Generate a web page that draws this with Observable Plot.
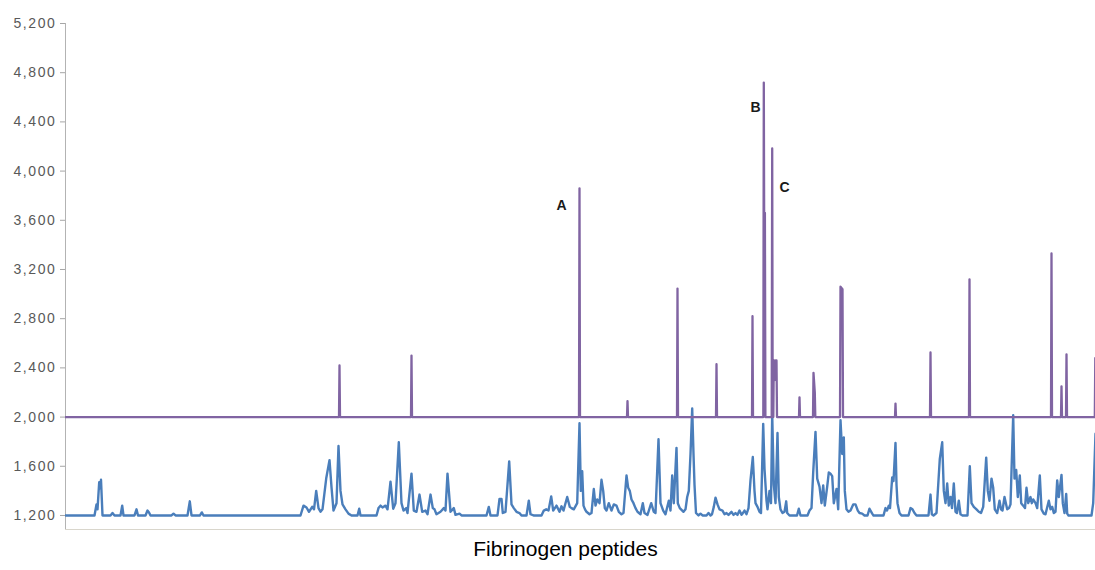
<!DOCTYPE html>
<html><head><meta charset="utf-8">
<script src="https://cdn.jsdelivr.net/npm/d3@7"></script>
<script src="https://cdn.jsdelivr.net/npm/@observablehq/plot@0.6"></script>
<style>
html,body{margin:0;padding:0;background:#fff;}
#chart{width:1095px;height:570px;}
g[aria-label="y-axis tick label"] text{letter-spacing:1.6px;}
</style></head><body><div id="chart"></div>
<script>
// y-axis tick values
const yTicks = [1200, 1600, 2000, 2400, 2800, 3200, 3600, 4000, 4400, 4800, 5200];
const xTitle = "Fibrinogen peptides";

// Purple trace: baseline 2000, spike groups [peptide position, intensity]
const purpleBase = 2000;
const purpleGroups = [
  [[273, 2420]],
  [[345, 2500]],
  [[513, 3860]],
  [[561, 2130]],
  [[611, 3045]],
  [[650, 2430]],
  [[686, 2820]],
  [[697.3, 4720], [697.8, 3190], [698.4, 3660]],
  [[705.7, 4184]],
  [[707.3, 2460], [708, 2300], [708.7, 2460], [709.4, 2350], [710, 2460]],
  [[733, 2160]],
  [[747, 2360], [748.3, 2200]],
  [[774, 3060], [776, 3040]],
  [[829, 2110]],
  [[864, 2525]],
  [[903, 3120]],
  [[985, 3330]],
  [[995, 2250]],
  [[1000, 2510]],
  [[1028.8, 2480]]
];

// Blue trace: [peptide position, intensity]
const blueTrace = [
  [-1,1200],
  [28,1200],[30,1290],[31,1250],[32.7,1470],[33.5,1420],[34.5,1490],[36,1200],
  [44,1200],[46,1220],[48,1200],
  [54,1200],[55.7,1280],[57,1200],
  [68,1200],[70,1250],[71.5,1200],
  [79,1200],[81,1240],[82.5,1225],[84,1200],
  [105,1200],[107,1215],[109,1200],
  [121,1200],[123.3,1315],[125,1200],
  [133.5,1200],[135.3,1225],[137,1200],
  [234,1200],[237,1280],[240,1265],[242.5,1230],[245.7,1270],[247.5,1250],[249.7,1400],[252,1260],[254,1230],[256,1250],[259.7,1500],[263,1650],[265,1430],[267,1240],[270,1300],[272,1765],[274,1400],[276,1290],[279,1250],[282,1215],[285,1200],
  [291,1200],[292.7,1255],[294,1200],
  [310,1200],[312,1260],[314,1280],[316,1265],[319,1280],[321,1250],[324,1475],[326.7,1255],[329,1300],[332.3,1795],[335,1300],[337,1240],[339.7,1260],[341,1220],[345,1540],[347.3,1240],[350,1230],[353,1370],[355.7,1230],[359,1240],[361,1210],[364,1370],[366.3,1260],[368,1250],[370,1210],[374,1230],[377.3,1260],[379,1240],[381,1540],[384,1230],[387.3,1260],[389,1205],[393,1215],[395,1200],
  [420,1200],[422.3,1270],[424,1200],
  [431,1200],[433,1335],[435,1335],[436.3,1220],[439,1230],[442.7,1640],[445,1290],[447.3,1260],[450,1230],[453,1220],[455,1200],
  [460,1200],[462.3,1320],[464,1210],[467,1200],
  [475,1200],[477.3,1240],[479.7,1250],[482,1240],[484.7,1355],[486.7,1240],[490,1280],[493,1230],[495,1275],[497,1240],[500.7,1350],[503.3,1270],[505,1260],[507.3,1250],[510.7,1300],[513,1950],[514.3,1400],[515.7,1560],[517,1280],[518.5,1250],[520,1230],[523,1210],[525,1220],
  [527.3,1415],[529,1280],[530.7,1330],[533,1300],[535,1490],[536.7,1400],[538.3,1260],[540,1240],[542.3,1300],[545,1240],[547.3,1290],[550,1280],[552.3,1230],[555,1210],[557,1220],[560,1525],[561.7,1425],[563.3,1400],[565,1330],[567,1300],[569,1260],[571,1230],[574,1210],[576.3,1300],[578,1220],[581,1205],[584.7,1300],[587.3,1230],[589,1220],[592,1820],[594,1300],[596.7,1240],[599,1210],[602.3,1320],[604,1240],[605.7,1525],[607.3,1300],[610,1750],[611.3,1300],[613.3,1260],[617,1230],[619,1250],[620.7,1350],[622.3,1400],[624,1700],[625.7,2070],[627,1700],[628,1450],[629.5,1220],[632,1200],
  [634,1215],[636,1200],[640,1200],[642,1220],[644,1200],[645.5,1210],[647.3,1270],[649,1345],[651,1290],[653,1250],[656,1240],[658,1210],[660,1220],[662,1205],[665,1230],[667,1205],[669,1220],[671,1205],[673,1240],[675,1205],[676,1215],[678,1240],[680,1210],[682,1260],[684,1485],[686.3,1675],[688,1400],[689,1300],[691,1270],[693,1230],[694.5,1220],[696.7,1945],[698,1580],[700,1320],[701,1250],[703,1400],[704.5,1300],[705.7,2025],[707.3,1450],[709,1300],[711,1870],[712.3,1350],[714,1250],[716,1220],[718,1230],[719.7,1315],[720.7,1220],[723,1200],
  [730.5,1200],[732.3,1255],[734,1200],
  [741,1200],[743,1240],[745,1260],[746.7,1550],[749,1880],[750.7,1500],[753,1435],[755,1300],[756.7,1445],[758.3,1280],[760.7,1435],[762.3,1550],[764,1540],[765.7,1520],[767.3,1300],[770,1415],[771.7,1250],[774,1975],[775.7,1700],[777.3,1835],[778.3,1400],[780,1250],[782,1230],[784,1240],[786.7,1290],[789,1290],[791.3,1240],[793,1220],[795.7,1215],[798,1200],
  [801,1200],[803,1255],[805.7,1215],[807,1200],
  [817,1200],[819,1260],[820.5,1240],[822.3,1280],[823.5,1260],[825.7,1510],[827,1480],[829,1790],[830,1450],[831,1300],[833,1220],[835,1200],
  [842,1200],[844,1260],[846,1250],[848,1220],[850,1200],
  [862,1200],[864,1370],[865.3,1210],[867,1200],
  [870,1220],[873.3,1660],[875.7,1795],[877.3,1400],[879,1300],[880.7,1460],[882.3,1280],[884,1350],[885.5,1260],[887.3,1460],[889,1230],[890.5,1220],[892.3,1320],[894,1210],[896,1200],
  [901,1200],[903.3,1600],[905,1300],[907.3,1270],[910,1250],[912.3,1230],[914.5,1220],[916.7,1270],[919.7,1670],[921.3,1400],[923,1320],[925,1500],[926.7,1425],[928.3,1250],[930.7,1220],[933,1320],[934.5,1250],[936,1240],[938,1350],[940.7,1250],[942.5,1260],[944,1290],[946.7,2015],[948,1500],[949.7,1570],[951.3,1350],[953.3,1525],[954.7,1300],[956.7,1280],[958.5,1260],[960,1425],[961.7,1300],[964,1350],[965.3,1300],[966.7,1330],[969,1300],[970.7,1260],[973.3,1525],[975,1250],[977.3,1215],[979,1210],[982.3,1320],[984,1250],[985.7,1270],[987.3,1220],[989,1230],[990.7,1485],[992.3,1350],[995,1530],[996.3,1300],[998,1220],[999.7,1375],[1000.7,1215],[1002,1200],
  [1025,1200],[1026.7,1300],[1029,1865]
];

// Peak annotations
const peakLabels = ["A", "B", "C"];
const peakLabelX = [495, 689, 718];
const peakLabelY = [3720, 4517, 3867];

// Build tables
const purpleTrace = [{x: -1, v: purpleBase}];
for (const g of purpleGroups) {
  purpleTrace.push({x: g[0][0] - 0.5, v: purpleBase});
  for (const [x, v] of g) purpleTrace.push({x, v});
  purpleTrace.push({x: g[g.length - 1][0] + 0.5, v: purpleBase});
}
const blueData = blueTrace.map(([x, v]) => ({x, v}));
const labelData = peakLabels.map((t, i) => ({t, x: peakLabelX[i], v: peakLabelY[i]}));

const chart = Plot.plot({
  width: 1095,
  height: 570,
  marginLeft: 65,
  marginRight: 0,
  marginTop: 23,
  marginBottom: 41,
  style: {fontFamily: "'Liberation Sans', Arial, sans-serif", fontSize: "14px", background: "#fff"},
  x: {domain: [-1, 1029], axis: null},
  y: {domain: [1086, 5200], axis: null},
  marks: [
    Plot.ruleY([1086], {stroke: "#d9d6cc", strokeWidth: 1.2}),
    Plot.ruleX([-1], {stroke: "#b3b3b3", strokeWidth: 1}),
    Plot.axisY(yTicks, {tickFormat: d3.format(","), tickSize: 5, tickPadding: 4, stroke: "#a6a6a6", fill: "#595959", fontSize: 14, label: null}),
    Plot.line(blueData, {x: "x", y: "v", stroke: "#4a7ebb", strokeWidth: 2.4, clip: true}),
    Plot.line(purpleTrace, {x: "x", y: "v", stroke: "#8064a2", strokeWidth: 2.3, clip: true}),
    Plot.text(labelData, {x: "x", y: "v", text: "t", fontWeight: "bold", fontSize: 14, fill: "#1a1a1a"}),
    Plot.text([xTitle], {x: [499], frameAnchor: "bottom", dy: 26, fontSize: 21, fill: "#000", style: "letter-spacing:1.9px"})
  ]
});
document.getElementById("chart").appendChild(chart);
</script></body></html>
